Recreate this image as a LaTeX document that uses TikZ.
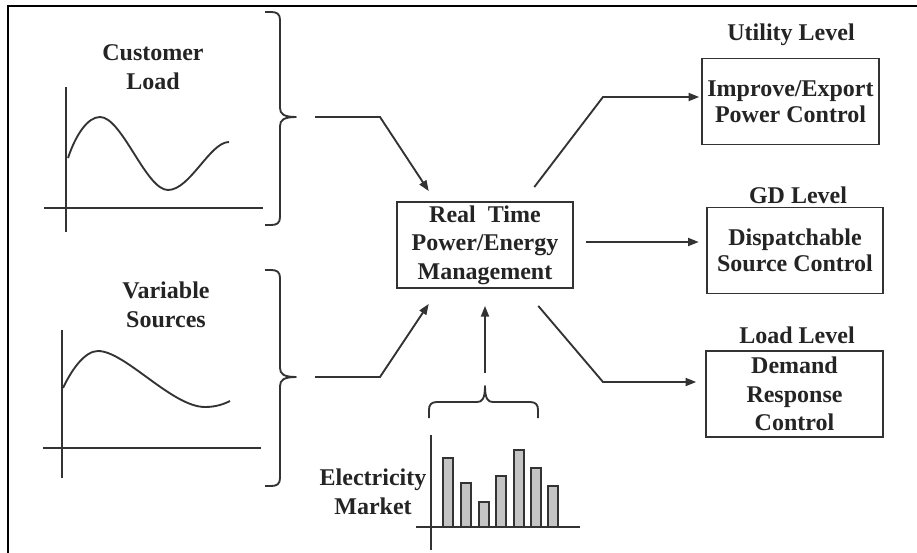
\documentclass[tikz,border=0pt]{standalone}
\usepackage{fontspec}
\setmainfont{Liberation Serif}
\usetikzlibrary{arrows.meta,calc}
\definecolor{ink}{HTML}{333333}
\definecolor{txt}{HTML}{242424}
\definecolor{barfill}{HTML}{C4C4C4}

\begin{document}
\begin{tikzpicture}[x=0.75pt,y=-0.75pt,
  every node/.style={text=txt, font=\bfseries\fontsize{18}{21.5}\selectfont},
  lbl/.style={inner sep=0pt, align=center},
  ctrlbox/.style={draw=ink, line width=1.4pt, align=center, inner sep=0pt,
                  minimum width=132.5pt, minimum height=64.5pt},
  tight/.style={font=\bfseries\fontsize{18}{19.5}\selectfont},
  link/.style={draw=ink, line width=1.4pt, -{Triangle[length=8pt,width=6pt]}},
  axis/.style={draw=ink, line width=1.7pt},
  wave/.style={draw=ink, line width=1.4pt},
  bracket/.style={draw=ink, line width=1.4pt, line join=round},
  bar/.style={draw=ink, line width=1pt, fill=barfill}]

% page extent and frame
\useasboundingbox (0,0) rectangle (917,553);
\draw[black, line width=2pt] (8,553) -- (8,6) -- (917,6);

% ---------- customer load ----------
\node[lbl] (cust) at (153,67) {Customer\\Load};
\draw[axis] (66,87) -- (66,232);
\draw[axis] (44,208) -- (263,208);
\draw[wave] (68,158) .. controls (76,134) and (88,117) .. (100,117)
                     .. controls (122,117) and (146,190) .. (168,190)
                     .. controls (190,190) and (210,142) .. (229,142);
% right brace, tip at (296,117)
\draw[bracket] (265,12) -- (271,12) .. controls (277,12) and (280,14) .. (280,20)
               -- (280,108) .. controls (280,114) and (284,117) .. (296,117)
               .. controls (284,117) and (280,120) .. (280,126)
               -- (280,217) .. controls (280,223) and (277,225) .. (271,225) -- (265,225);

% ---------- variable sources ----------
\node[lbl] (var) at (166,305) {Variable\\Sources};
\draw[axis] (62,330) -- (62,478);
\draw[axis] (43,448) -- (261,448);
\draw[wave] (63,388) .. controls (72,369) and (85,351) .. (98,351)
                     .. controls (125,351) and (172,407) .. (205,407)
                     .. controls (216,407) and (224,404) .. (230,401);
% right brace, tip at (296,377)
\draw[bracket] (265,270) -- (271,270) .. controls (277,270) and (280,272) .. (280,278)
               -- (280,368) .. controls (280,374) and (284,377) .. (296,377)
               .. controls (284,377) and (280,380) .. (280,386)
               -- (280,478) .. controls (280,484) and (277,486) .. (271,486) -- (265,486);

% ---------- electricity market ----------
\node[lbl] (mkt) at (373,492) {Electricity\\Market};
\draw[axis] (431,435) -- (431,550);
\foreach \cx/\top in {448/458, 466/483, 484/502, 501/476, 519/450, 536/468, 553/486}
  \draw[bar] (\cx-5,527) rectangle (\cx+5,\top);
\draw[axis] (416,527) -- (580,527);
% upward brace, tip at (485,386)
\draw[bracket] (429,418) -- (429,410) .. controls (429,405) and (431,402) .. (437,402)
               -- (477,402) .. controls (482,402) and (485,399) .. (485,386)
               .. controls (485,399) and (488,402) .. (493,402)
               -- (530,402) .. controls (536,402) and (538,405) .. (538,410) -- (538,418);

% ---------- central management ----------
\node[ctrlbox] (core) at (485,245) {Real\ \ Time\\Power/Energy\\Management};

% ---------- control levels ----------
\node[lbl, anchor=base] (utillbl) at (791,40) {Utility Level};
\node[ctrlbox, tight] (util) at (790.5,101.5) {Improve/Export\\Power Control};
\node[lbl, anchor=base] (gdlbl) at (798,203) {GD Level};
\node[ctrlbox, tight] (gd) at (795,250.5) {Dispatchable\\Source Control};
\node[lbl, anchor=base] (loadlbl) at (797,343) {Load Level};
\node[ctrlbox] (dr) at (794.5,394) {Demand\\Response\\Control};

% ---------- connectors ----------
\coordinate (s1) at (315,117);
\coordinate (k1) at (380,117);
\draw[link] (s1) -- (k1) -- ($(core.north west)+(33,-10)$);

\coordinate (s2) at (315,377);
\coordinate (k2) at (380,377);
\draw[link] (s2) -- (k2) -- ($(core.south west)+(33,15)$);

\coordinate (s3) at (485,373);
\draw[link] (s3) -- ($(core.south)+(0,17)$);

\coordinate (k4) at (603,97);
\draw[link] ($(core.north east)+(-40,-14)$) -- (k4) -- ($(util.west)+(-2,-4.5)$);

\draw[link] ($(core.east)+(12,-3)$) -- ($(gd.west)+(-7,-8.5)$);

\coordinate (k6) at (603,382);
\draw[link] ($(core.south east)+(-36,17)$) -- (k6) -- ($(dr.west)+(-9,-12)$);
\end{tikzpicture}
\end{document}
